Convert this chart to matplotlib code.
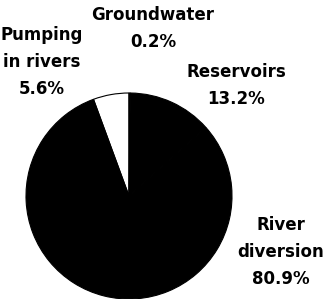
import matplotlib
matplotlib.use('Agg')
import matplotlib.pyplot as plt

# Sources of water (share of total)
sources = ['Pumping\nin rivers', 'River\ndiversion', 'Reservoirs', 'Groundwater']
shares = [5.6, 80.9, 13.2, 0.2]
colors = ['white', 'black', 'black', 'black']

fig = plt.figure(figsize=(3.26, 2.99), dpi=100)
ax = fig.add_axes([0, 0, 1, 1])

ax.pie(shares, colors=colors, startangle=90, counterclock=True,
       center=(129, 103), radius=103,
       wedgeprops=dict(edgecolor='black', linewidth=0.8))

# pie() resets the limits, so set them afterwards
ax.set_xlim(0, 326)
ax.set_ylim(0, 299)
ax.set_aspect('equal')
ax.axis('off')

# label positions (x, y of first line), one per source
label_pos = [(42, 264), (281, 74), (236, 227), (153, 284)]
for name, val, (x, y) in zip(sources, shares, label_pos):
    lines = name.split('\n') + [f'{val}%']
    for i, line in enumerate(lines):
        ax.text(x, y - i * 27, line, ha='center', va='center',
                fontsize=12, fontweight='bold', family='DejaVu Sans')

fig.savefig('out.png', dpi=100)
